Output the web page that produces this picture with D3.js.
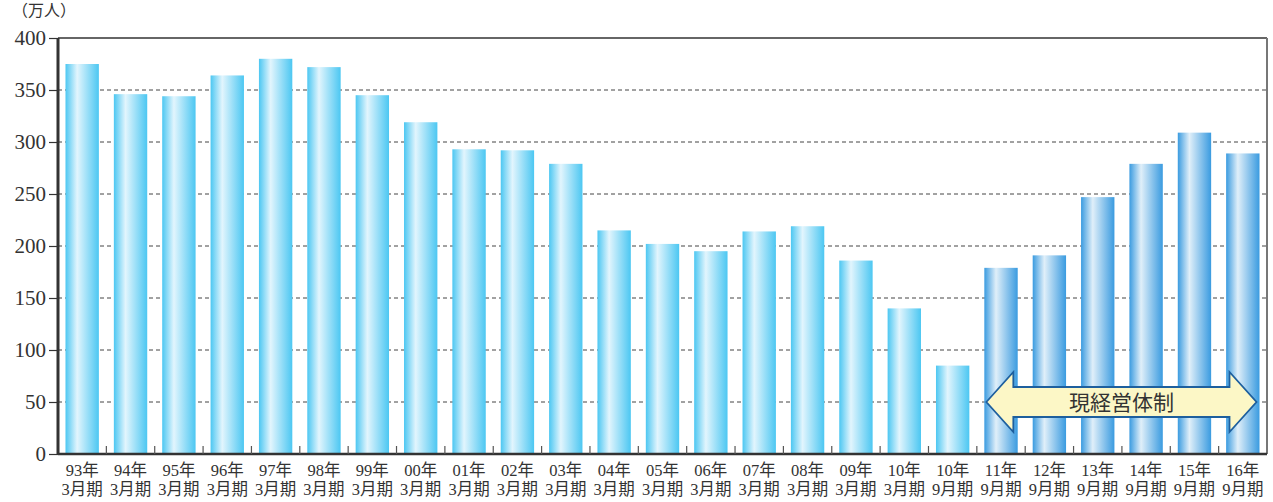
<!DOCTYPE html>
<html>
<head>
<meta charset="utf-8">
<script src="https://cdn.jsdelivr.net/npm/d3@7"></script>
<style>
  body { margin: 0; background: #fff; }
  text { font-family: "Liberation Serif", "Noto Sans CJK JP", serif; fill: #333; }
</style>
</head>
<body>
<div id="visual"></div>
<script>
var margin = { top: 38, right: 6, bottom: 48, left: 58 },
    width = 1273 - margin.left - margin.right,
    height = 502 - margin.top - margin.bottom;

// data
let years = ["93年", "94年", "95年", "96年", "97年", "98年", "99年", "00年", "01年", "02年", "03年", "04年", "05年", "06年", "07年", "08年", "09年", "10年", "10年", "11年", "12年", "13年", "14年", "15年", "16年"]
let periods = ["3月期", "3月期", "3月期", "3月期", "3月期", "3月期", "3月期", "3月期", "3月期", "3月期", "3月期", "3月期", "3月期", "3月期", "3月期", "3月期", "3月期", "3月期", "9月期", "9月期", "9月期", "9月期", "9月期", "9月期", "9月期"]
let members = [375, 346, 344, 364, 380, 372, 345, 319, 293, 292, 279, 215, 202, 195, 214, 219, 186, 140, 85, 179, 191, 247, 279, 309, 289]
let currentFrom = 19   // index where 現経営体制 begins
let yTicks = [0, 50, 100, 150, 200, 250, 300, 350, 400]
let arrowLabel = "現経営体制"

let data = members.map((v, i) => ({ key: i, year: years[i], period: periods[i], value: v, current: i >= currentFrom }))

var svg = d3.select("#visual")
    .append("svg")
    .attr("width", 1273)
    .attr("height", 502)

let defs = svg.append("defs")
function gradient(id, edge, mid) {
    let g = defs.append("linearGradient").attr("id", id)
        .attr("x1", "0%").attr("x2", "100%").attr("y1", "0%").attr("y2", "0%")
    g.append("stop").attr("offset", "0%").attr("stop-color", edge)
    g.append("stop").attr("offset", "35%").attr("stop-color", mid)
    g.append("stop").attr("offset", "100%").attr("stop-color", edge)
}
gradient("oldBar", "#4cc7f2", "#e2f5fd")
gradient("newBar", "#3a9be0", "#e0eff9")

let chart = svg.append("g")
    .attr("transform", "translate(" + margin.left + "," + margin.top + ")")

let x = d3.scaleBand()
    .domain(data.map(d => d.key))
    .range([0, width])
    .paddingInner(0.31)
    .paddingOuter(0.155)

let y = d3.scaleLinear()
    .domain([0, 400])
    .range([height, 0])

// grid lines
chart.selectAll("grid")
    .data(yTicks.filter(t => t > 0 && t < 400))
    .enter()
    .append("line")
    .attr("x1", 0)
    .attr("x2", width)
    .attr("y1", d => y(d))
    .attr("y2", d => y(d))
    .attr("stroke", "#444")
    .attr("stroke-dasharray", "4,3")

// top line and right border
chart.append("line")
    .attr("x1", 0).attr("x2", width)
    .attr("y1", y(400)).attr("y2", y(400))
    .attr("stroke", "#333").attr("stroke-width", 1.5)
chart.append("line")
    .attr("x1", width).attr("x2", width)
    .attr("y1", y(400)).attr("y2", height)
    .attr("stroke", "#777").attr("stroke-width", 2)

// bars
chart.selectAll("bar")
    .data(data)
    .enter()
    .append("rect")
    .attr("x", d => x(d.key))
    .attr("width", x.bandwidth())
    .attr("y", d => y(d.value))
    .attr("height", d => height - y(d.value))
    .attr("fill", d => d.current ? "url(#newBar)" : "url(#oldBar)")

// y axis
let yAxis = chart.append("g")
    .call(d3.axisLeft(y).tickValues(yTicks).tickSize(9).tickPadding(3))
yAxis.select(".domain").attr("stroke", "#333").attr("stroke-width", 3)
    .attr("d", "M0," + height + "V0")
yAxis.selectAll(".tick line").attr("stroke", "#333").attr("stroke-width", 1.2)
yAxis.selectAll("text").attr("font-size", 21).attr("fill", "#333")
    .attr("font-family", "Liberation Serif, serif")

chart.append("text")
    .attr("x", -46)
    .attr("y", -22)
    .attr("font-size", 16)
    .text("（万人）")

// x baseline and inner ticks between bars
chart.append("line")
    .attr("x1", 0).attr("x2", width)
    .attr("y1", height).attr("y2", height)
    .attr("stroke", "#333").attr("stroke-width", 2.5)

let step = x.step()
chart.selectAll("xtick")
    .data(data.slice(1))
    .enter()
    .append("line")
    .attr("x1", d => x(d.key) - (step - x.bandwidth()) / 2)
    .attr("x2", d => x(d.key) - (step - x.bandwidth()) / 2)
    .attr("y1", height)
    .attr("y2", height - 8)
    .attr("stroke", "#555")
    .attr("stroke-width", 1.2)

let labels = chart.selectAll("xlabel")
    .data(data)
    .enter()
    .append("text")
    .attr("text-anchor", "middle")
    .attr("font-size", 16.5)
labels.append("tspan")
    .attr("x", d => x(d.key) + x.bandwidth() / 2)
    .attr("y", height + 22)
    .text(d => d.year)
labels.append("tspan")
    .attr("x", d => x(d.key) + x.bandwidth() / 2)
    .attr("y", height + 41)
    .text(d => d.period)

// double arrow for current management
let ax0 = x(currentFrom) + 2
let ax1 = x(data.length - 1) + x.bandwidth() - 3
let ay = y(50)
let head = 27, bodyH = 15, headH = 30
let arrow = d3.path()
arrow.moveTo(ax0, ay)
arrow.lineTo(ax0 + head, ay - headH)
arrow.lineTo(ax0 + head, ay - bodyH)
arrow.lineTo(ax1 - head, ay - bodyH)
arrow.lineTo(ax1 - head, ay - headH)
arrow.lineTo(ax1, ay)
arrow.lineTo(ax1 - head, ay + headH)
arrow.lineTo(ax1 - head, ay + bodyH)
arrow.lineTo(ax0 + head, ay + bodyH)
arrow.lineTo(ax0 + head, ay + headH)
arrow.closePath()

chart.append("path")
    .attr("d", arrow.toString())
    .attr("fill", "#fcf7c6")
    .attr("stroke", "#1d5f9e")
    .attr("stroke-width", 1.8)
    .attr("stroke-linejoin", "miter")

chart.append("text")
    .attr("x", (ax0 + ax1) / 2)
    .attr("y", ay + 8)
    .attr("text-anchor", "middle")
    .attr("font-size", 21)
    .attr("font-family", "Noto Sans CJK JP, sans-serif")
    .attr("fill", "#222")
    .text(arrowLabel)
</script>
</body>
</html>
